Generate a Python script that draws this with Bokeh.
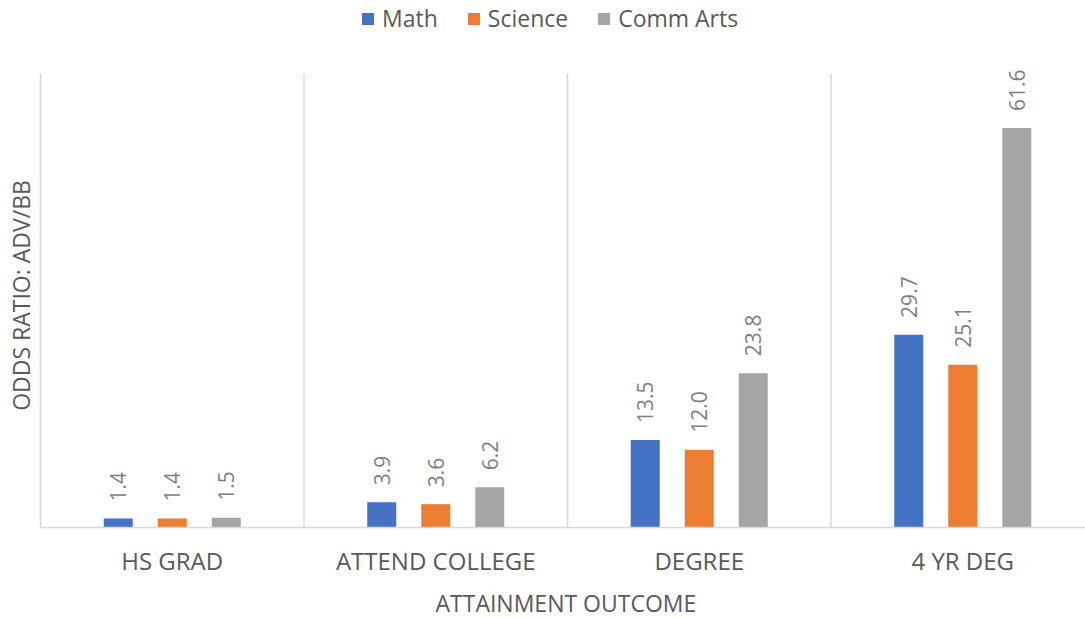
import math
from bokeh.plotting import figure
from bokeh.models import (ColumnDataSource, Range1d, FixedTicker, LabelSet, Label, Legend, LegendItem, Title)
from bokeh.core.properties import value
from bokeh.embed import file_html
from bokeh.resources import INLINE

categories = ["HS GRAD", "ATTEND COLLEGE", "DEGREE", "4 YR DEG"]
series_names = ["Math", "Science", "Comm Arts"]
math_vals = [1.4, 3.9, 13.5, 29.7]
science_vals = [1.4, 3.6, 12.0, 25.1]
comm_arts_vals = [1.5, 6.2, 23.8, 61.6]
colors = ["#4472C4", "#ED7D31", "#A5A5A5"]

FONT = "Open Sans"
W = 1085
plot_left = 40          # px where the first category starts
plot_top = 73           # px where the value axis reaches y_max
frame_h = 527           # px from canvas top to baseline
cat_px = 263.5
y_max = 70
px_per_unit = (frame_h - plot_top) / y_max

x0 = -plot_left / cat_px
x1 = (W - plot_left) / cat_px

p = figure(frame_width=W, frame_height=frame_h, output_backend="svg", toolbar_location=None,
           x_range=Range1d(x0, x1), y_range=Range1d(0, frame_h / px_per_unit),
           min_border_left=0, min_border_right=0, min_border_top=0, min_border_bottom=91)
p.outline_line_color = None
p.background_fill_color = "white"
p.yaxis.visible = False
p.xgrid.grid_line_color = None
p.ygrid.grid_line_color = None

# category separators (vertical gridlines)
bounds = list(range(len(categories) + 1))
p.segment(x0=bounds, y0=[0] * len(bounds), x1=bounds, y1=[y_max] * len(bounds),
          line_color="#D9D9D9", line_width=1.5)

offsets = [-0.205, 0.0, 0.205]
bar_w = 29 / cat_px
renderers = []
all_vals = [math_vals, science_vals, comm_arts_vals]
for k, (name, vals, col) in enumerate(zip(series_names, all_vals, colors)):
    xs = [i + 0.5 + offsets[k] for i in range(len(categories))]
    src = ColumnDataSource(dict(x=xs, top=vals, lab=[f"{v:.1f}" for v in vals]))
    r = p.vbar(x="x", top="top", width=bar_w, bottom=0, source=src,
               fill_color=col, line_color=None)
    renderers.append((name, r))
    ls = LabelSet(x="x", y="top", text="lab", source=src, angle=math.pi / 2,
                  text_align="left", text_baseline="middle", y_offset=17,
                  text_font=value(FONT), text_font_size=value("21px"), text_color="#7F7F7F")
    p.add_layout(ls)

# x axis
p.xaxis.bounds = (0, x1)
p.xaxis.ticker = FixedTicker(ticks=[i + 0.5 for i in range(len(categories))])
p.xaxis.major_label_overrides = {i + 0.5: c for i, c in enumerate(categories)}
p.xaxis.major_tick_line_color = None
p.xaxis.minor_tick_line_color = None
p.xaxis.axis_line_color = "#D9D9D9"
p.xaxis.axis_line_width = 1.5
p.xaxis.major_label_text_font = FONT
p.xaxis.major_label_text_font_size = "24px"
p.xaxis.major_label_text_color = "#595959"
p.xaxis.major_label_standoff = 10

xtitle = Title(text="ATTAINMENT OUTCOME", align="left", offset=435,
               text_font=FONT, text_font_size="23px", text_font_style="normal",
               text_color="#595959", standoff=10)
p.add_layout(xtitle, "below")

# value-axis title
ytitle = Label(x=x0 + 20 / cat_px, y=(frame_h - 292) / px_per_unit,
               text="ODDS RATIO:  ADV/BB", angle=math.pi / 2,
               text_align="center", text_baseline="middle",
               text_font=FONT, text_font_size="23px", text_color="#595959")
p.add_layout(ytitle)

legend = Legend(items=[LegendItem(label=n, renderers=[r]) for n, r in renderers],
                orientation="horizontal", location=(360, frame_h - 34),
                label_text_font=FONT, label_text_font_size="23px", label_text_color="#595959",
                glyph_width=15, glyph_height=15, label_standoff=7, spacing=28,
                border_line_color=None, background_fill_alpha=0, padding=4, margin=0)
p.add_layout(legend)

open("out.html", "w").write(file_html(p, INLINE))
